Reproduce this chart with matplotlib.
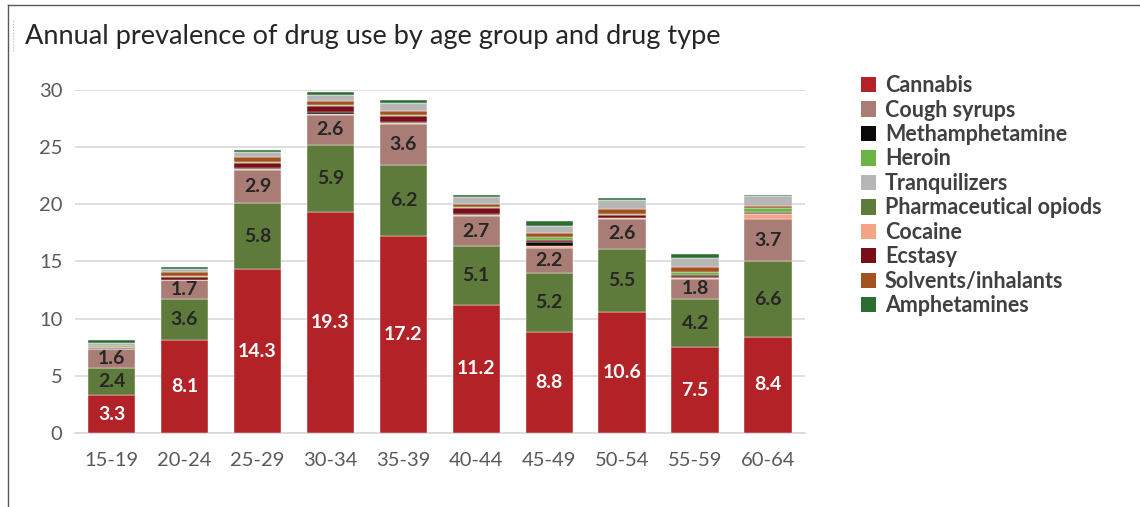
import matplotlib
matplotlib.use("Agg")
import matplotlib.pyplot as plt
from matplotlib.patches import Patch
from matplotlib.lines import Line2D
import numpy as np

age_groups = ["15-19", "20-24", "25-29", "30-34", "35-39", "40-44", "45-49", "50-54", "55-59", "60-64"]

cannabis = [3.3, 8.1, 14.3, 19.3, 17.2, 11.2, 8.8, 10.6, 7.5, 8.4]
pharma_opioids = [2.4, 3.6, 5.8, 5.9, 6.2, 5.1, 5.2, 5.5, 4.2, 6.6]
cough_syrups = [1.6, 1.7, 2.9, 2.6, 3.6, 2.7, 2.2, 2.6, 1.8, 3.7]
cocaine = [0.05, 0.0, 0.1, 0.05, 0.1, 0.05, 0.15, 0.05, 0.05, 0.45]
methamphetamine = [0.05, 0.0, 0.1, 0.2, 0.1, 0.05, 0.3, 0.05, 0.05, 0.05]
ecstasy = [0.05, 0.25, 0.4, 0.5, 0.5, 0.6, 0.25, 0.25, 0.25, 0.15]
heroin = [0.05, 0.05, 0.1, 0.1, 0.1, 0.05, 0.2, 0.05, 0.2, 0.3]
solvents = [0.1, 0.35, 0.4, 0.4, 0.3, 0.25, 0.35, 0.5, 0.45, 0.15]
tranquilizers = [0.3, 0.25, 0.45, 0.45, 0.7, 0.6, 0.65, 0.8, 0.75, 0.95]
amphetamines = [0.2, 0.2, 0.2, 0.3, 0.3, 0.2, 0.4, 0.1, 0.35, 0.03]

colors = {
    "Cannabis": "#B22226",
    "Cough syrups": "#A97C75",
    "Methamphetamine": "#0A0A0A",
    "Heroin": "#6BB544",
    "Tranquilizers": "#B6B6B6",
    "Pharmaceutical opiods": "#5F7B3B",
    "Cocaine": "#F4A383",
    "Ecstasy": "#7A0E18",
    "Solvents/inhalants": "#A3521F",
    "Amphetamines": "#2C6E32",
}

stack = [
    ("Cannabis", cannabis),
    ("Pharmaceutical opiods", pharma_opioids),
    ("Cough syrups", cough_syrups),
    ("Cocaine", cocaine),
    ("Methamphetamine", methamphetamine),
    ("Ecstasy", ecstasy),
    ("Heroin", heroin),
    ("Solvents/inhalants", solvents),
    ("Tranquilizers", tranquilizers),
    ("Amphetamines", amphetamines),
]

legend_order = ["Cannabis", "Cough syrups", "Methamphetamine", "Heroin", "Tranquilizers",
                "Pharmaceutical opiods", "Cocaine", "Ecstasy", "Solvents/inhalants", "Amphetamines"]

plt.rcParams["font.family"] = ["Lato", "DejaVu Sans"]

fig = plt.figure(figsize=(11.4, 5.07), dpi=100)
ax = fig.add_axes([0.0658, 0.146, 0.640, 0.677])

x = np.arange(len(age_groups))
bottom = np.zeros(len(age_groups))
width = 0.65
for name, vals in stack:
    vals = np.array(vals, dtype=float)
    ax.bar(x, vals, width, bottom=bottom, color=colors[name], edgecolor="white", linewidth=0.3, zorder=3)
    if name in ("Cannabis", "Pharmaceutical opiods", "Cough syrups"):
        tc = "white" if name == "Cannabis" else "#262626"
        for xi, b, v in zip(x, bottom, vals):
            ax.text(xi, b + v / 2, f"{v:.1f}", ha="center", va="center", color=tc,
                    fontsize=14, fontweight="bold", zorder=4)
    bottom += vals

ax.set_xlim(-0.5, len(age_groups) - 0.5)
ax.set_ylim(0, 30)
ax.set_yticks(range(0, 31, 5))
ax.set_xticks(x)
ax.set_xticklabels(age_groups)
ax.tick_params(axis="both", length=0, labelsize=14.5, colors="#595959")
ax.tick_params(axis="y", pad=9)
ax.tick_params(axis="x", pad=14)
ax.grid(axis="y", color="#D9D9D9", linewidth=1.2, zorder=0)
for s in ["top", "right", "left"]:
    ax.spines[s].set_visible(False)
ax.spines["bottom"].set_color("#D9D9D9")
ax.spines["bottom"].set_linewidth(1.2)

handles = [Patch(facecolor=colors[n], edgecolor="none", label=n) for n in legend_order]
leg = fig.legend(handles=handles, loc="upper left", bbox_to_anchor=(0.738, 0.890),
                 frameon=False, handlelength=0.72, handleheight=0.72, handletextpad=0.4,
                 labelspacing=0.16, prop={"size": 15.5, "weight": "bold"})
for t in leg.get_texts():
    t.set_color("#404040")

fig.text(0.022, 0.928, "Annual prevalence of drug use by age group and drug type",
         fontsize=19.5, color="#262626", ha="left", va="center")

# frame lines
fig.add_artist(Line2D([0.007, 1.0], [0.99, 0.99], transform=fig.transFigure, color="#595959", linewidth=1))
fig.add_artist(Line2D([0.007, 0.007], [0.0, 0.99], transform=fig.transFigure, color="#595959", linewidth=1))
fig.add_artist(Line2D([0.011, 0.011], [0.90, 0.96], transform=fig.transFigure, color="#D9A0A0",
                      linewidth=0.8, linestyle=":"))

fig.savefig("out.png", dpi=100)
